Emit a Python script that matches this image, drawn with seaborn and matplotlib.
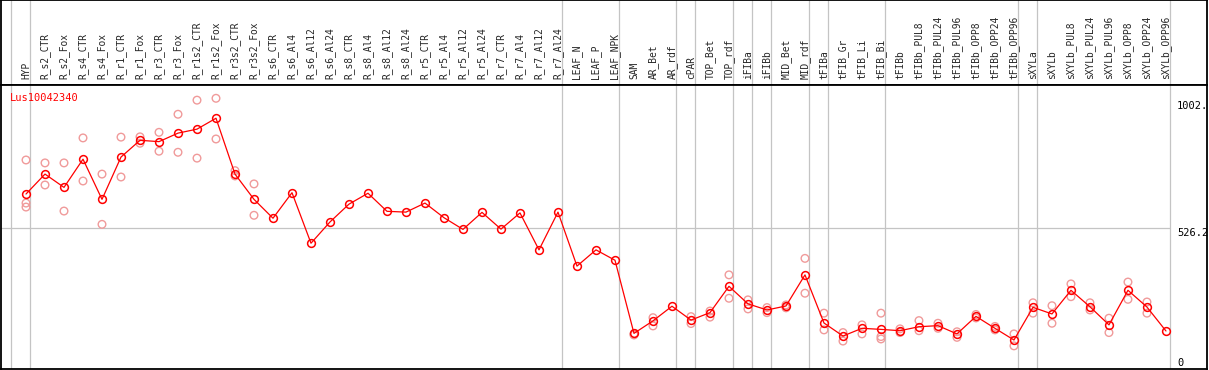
import numpy as np
import pandas as pd
import matplotlib
matplotlib.use("Agg")
import matplotlib.pyplot as plt
import seaborn as sns

# sample names along the x axis
samples = ["HYP", "R_s2_CTR", "R_s2_Fox", "R_s4_CTR", "R_s4_Fox", "R_r1_CTR", "R_r1_Fox",
           "R_r3_CTR", "R_r3_Fox", "R_r1s2_CTR", "R_r1s2_Fox", "R_r3s2_CTR", "R_r3s2_Fox",
           "R_s6_CTR", "R_s6_Al4", "R_s6_Al12", "R_s6_Al24", "R_s8_CTR", "R_s8_Al4",
           "R_s8_Al12", "R_s8_Al24", "R_r5_CTR", "R_r5_Al4", "R_r5_Al12", "R_r5_Al24",
           "R_r7_CTR", "R_r7_Al4", "R_r7_Al12", "R_r7_Al24", "LEAF_N", "LEAF_P", "LEAF_NPK",
           "SAM", "AR_Bet", "AR_rdf", "cPAR", "TOP_Bet", "TOP_rdf", "iFIBa", "iFIBb",
           "MID_Bet", "MID_rdf", "tFIBa", "tFIB_Gr", "tFIB_Li", "tFIB_Bi", "tFIBb",
           "tFIBb_PUL8", "tFIBb_PUL24", "tFIBb_PUL96", "tFIBb_OPP8", "tFIBb_OPP24",
           "tFIBb_OPP96", "sXYLa", "sXYLb", "sXYLb_PUL8", "sXYLb_PUL24", "sXYLb_PUL96",
           "sXYLb_OPP8", "sXYLb_OPP24", "sXYLb_OPP96"]

# mean expression (red line)
mean_expr = [654, 729, 679, 785, 634, 793, 856, 851, 883, 898, 939, 729, 634,
             563, 659, 469, 549, 616, 657, 589, 586, 620, 565, 521, 585,
             522, 583, 444, 586, 383, 444, 405,
             130, 177, 232, 180, 208, 307, 241, 218, 233, 350,
             169, 120, 149, 145, 140, 155, 159, 128, 194, 149, 105,
             228, 203, 292, 230, 162, 292, 229, 139]

# individual replicates (pink circles)
replicates = [[782, 620, 605], [771, 688], [771, 590], [865, 703], [729, 540],
              [868, 718], [869, 845], [886, 815], [954, 811], [1007, 789],
              [1014, 861], [742, 722], [692, 574],
              [], [], [], [], [], [], [], [], [], [], [], [], [], [], [], [], [], [], [],
              [128, 124], [189, 158], [], [193, 167], [214, 191], [350, 262],
              [256, 222], [208, 227], [237, 226], [412, 281],
              [206, 143], [133, 101], [162, 128], [206, 118, 109], [147, 133],
              [178, 140], [168, 149], [136, 115], [201, 188], [156, 143], [128, 83],
              [245, 206], [234, 168], [316, 268], [245, 218], [187, 133],
              [323, 258], [248, 206], []]

# last sample index of each group (grey separators)
group_ends = [-1, 0, 28, 31, 34, 35, 37, 38, 39, 41, 42, 45, 52, 53, 60]

ytick_vals = [1002.9, 526.2, 0]
ytick_text = ["1002.", "526.2", "0"]
gene = "Lus10042340"

sns.set_style("white")
plt.rcParams["font.family"] = ["DejaVu Sans Mono"]

pos = np.arange(len(samples))
df_mean = pd.DataFrame({"pos": pos, "value": mean_expr})
rep_rows = [(i, v) for i, vals in enumerate(replicates) for v in vals]
df_rep = pd.DataFrame(rep_rows, columns=["pos", "value"])

W, H = 1209, 370
fig = plt.figure(figsize=(W / 100, H / 100), dpi=100)
ax_head = fig.add_axes([1 / W, (H - 85) / H, 1206 / W, 85 / H])
ax = fig.add_axes([1 / W, 1 / H, 1206 / W, 284 / H], sharex=ax_head)
ax_head.patch.set_alpha(0)

xmin, xmax = -1.316, 62.16
ax.set_xlim(xmin, xmax)
ax.set_ylim(-4, 1064)
ax_head.set_ylim(0, 1)

grey = "#c4c4c4"
sep_x = [e + 0.22 for e in group_ends]
for a in (ax, ax_head):
    for x in sep_x:
        a.axvline(x, color=grey, lw=0.9, zorder=1)
    for s in a.spines.values():
        s.set_color("black")
        s.set_linewidth(1.3)
    a.tick_params(left=False, right=False, bottom=False, labelleft=False, labelbottom=False)
ax_head.set_yticks([])
ax.set_yticks([])
ax.hlines(526.2, xmin, sep_x[-1], color=grey, lw=0.9, zorder=1)

sns.scatterplot(data=df_rep, x="pos", y="value", ax=ax, marker="o", s=30,
                linewidth=1.0, zorder=2, legend=False)
coll = ax.collections[-1]
coll.set_facecolor("none")
coll.set_edgecolor("#f09a9a")

sns.lineplot(data=df_mean, x="pos", y="value", ax=ax, color="red", lw=0.9,
             marker="o", markersize=5.6, markerfacecolor="none",
             markeredgecolor="red", markeredgewidth=1.1, zorder=3)

ax.xaxis.tick_top()
ax.set_xticks(pos)
ax.set_xticklabels(samples, rotation=90, fontsize=6.9)
ax.tick_params(axis="x", top=False, labeltop=True, pad=1)
ax.set_xlabel("")
ax.set_ylabel("")

for v, t in zip(ytick_vals, ytick_text):
    ax.text((1177 - 1) / 1206, v, t, transform=ax.get_yaxis_transform(),
            ha="left", va="bottom" if v == 0 else "top", fontsize=7.5, color="black")

ax.text(8.5 / 1206, 1 - 13 / 284, gene, transform=ax.transAxes, color="red",
        fontsize=7.5, ha="left", va="center")

fig.savefig("out.png", dpi=100)
